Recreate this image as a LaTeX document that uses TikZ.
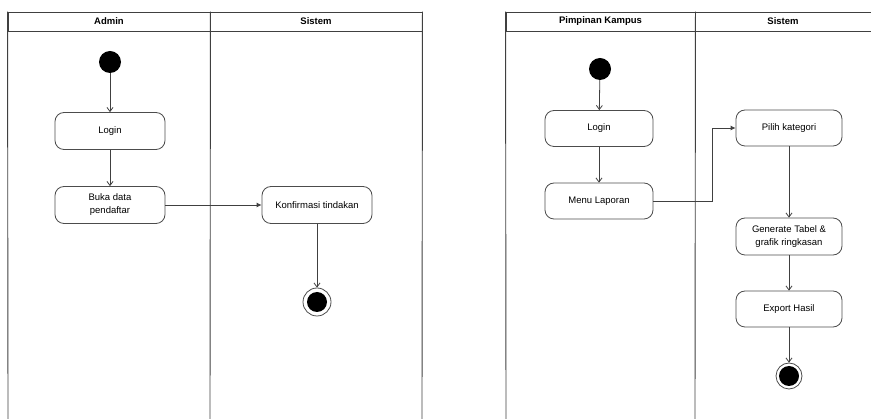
\documentclass[tikz,border=0pt]{standalone}
\usepackage{fontspec}
\setmainfont{Liberation Sans}
\usetikzlibrary{arrows.meta}
\begin{document}
\begin{tikzpicture}[x=1pt,y=-1pt,
  lane/.style={draw=black!75, line width=0.9pt},
  lanehead/.style={draw=black!75, line width=0.9pt, minimum height=19pt,
    inner sep=0pt, font=\fontsize{9.5}{10}\selectfont\bfseries},
  act/.style={draw=black!70, line width=0.8pt, rounded corners=9pt,
    minimum width=110pt, minimum height=37pt, inner sep=1pt, align=center,
    font=\fontsize{9.5}{13}\selectfont},
  startnode/.style={circle, fill=black, minimum size=22pt, inner sep=0pt},
  endnode/.style={circle, draw=black!70, line width=0.8pt, fill=white,
    minimum size=28pt, inner sep=0pt,
    path picture={\fill[black] (path picture bounding box.center) circle (10pt);}},
  flow/.style={draw=black!75, line width=0.8pt, -{Straight Barb[length=4pt,width=6pt]}},
  flowf/.style={draw=black!75, line width=0.8pt, -{Latex[length=5pt,width=5pt]}}]
\useasboundingbox (0,0) rectangle (871,419);

% ---------------- Admin / Sistem ----------------
\node[lanehead, minimum width=202pt] (hA) at (109,21.5) {Admin};
\node[lanehead, minimum width=212pt] (hS1) at (316,21.5) {Sistem};
\draw[lane] (hA.north west) -- (8,419);
\draw[lane] (hA.north east) -- (210,419);
\draw[lane] (hS1.north east) -- (422,419);

\node[startnode] (s1) at (110,62) {};
\node[act] (login1) at (110,131) {Login};
\node[act] (buka) at (110,205) {Buka data\\pendaftar};
\node[act] (konf) at (317,205) {Konfirmasi tindakan};
\node[endnode] (e1) at (317,302) {};

\draw[flow] (s1) -- (login1);
\draw[flow] (login1) -- (buka);
\draw[flowf] (buka) -- (konf);
\draw[flow] (konf) -- (e1);

% ---------------- Pimpinan Kampus / Sistem ----------------
\node[lanehead, minimum width=189pt] (hP) at (600.5,21.5) {Pimpinan Kampus};
\node[lanehead, minimum width=176pt] (hS2) at (783,21.5) {Sistem};
\draw[lane] (hP.north west) -- (506,419);
\draw[lane] (hP.north east) -- (695,419);

\node[startnode] (s2) at (600,69) {};
\node[act, minimum width=108pt, minimum height=36pt] (login2) at (599,128.5) {Login};
\node[act, minimum width=108pt, minimum height=36pt] (menu) at (599,201) {Menu Laporan};
\node[act, minimum width=106pt, minimum height=36pt] (pilih) at (789,128) {Pilih kategori};
\node[act, minimum width=106pt, minimum height=37pt] (gen) at (789,236.5) {Generate Tabel \&\\grafik ringkasan};
\node[act, minimum width=106pt, minimum height=36pt] (exp) at (789,309) {Export Hasil};
\node[endnode, minimum size=26pt] (e2) at (789,376) {};
\coordinate (bend) at (712,0);

\draw[flow] (s2) -- (login2);
\draw[flow] (login2) -- (menu);
\draw[flowf] (menu.east) -- (menu.east -| bend) -- (pilih.west -| bend) -- (pilih.west);
\draw[flow] (pilih) -- (gen);
\draw[flow] (gen) -- (exp);
\draw[flow] (exp) -- (e2);
\end{tikzpicture}
\end{document}
